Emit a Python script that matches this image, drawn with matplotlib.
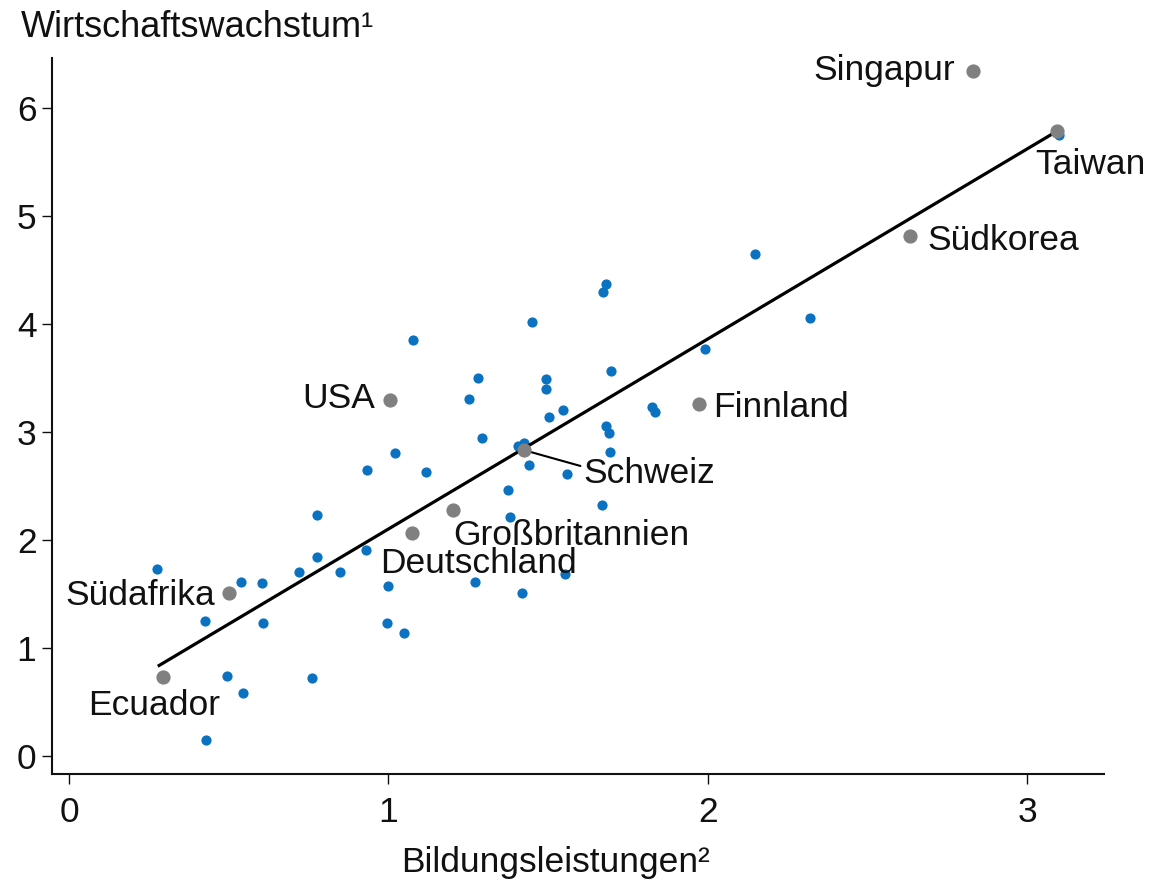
import matplotlib
matplotlib.use("Agg")
import matplotlib.pyplot as plt

plt.rcParams['font.family'] = ['Liberation Sans', 'DejaVu Sans']

# Blue dots: other countries (education score, growth)
blue_x = [0.275, 0.427, 0.429, 0.496, 0.539, 0.544, 0.603, 0.607, 0.720, 0.762,
          0.778, 0.778, 0.847, 0.929, 0.933, 0.995, 1.000, 1.022, 1.048, 1.076,
          1.119, 1.253, 1.272, 1.280, 1.294, 1.375, 1.380, 1.407, 1.418, 1.425,
          1.441, 1.451, 1.493, 1.494, 1.504, 1.545, 1.553, 1.559, 1.670, 1.671,
          1.682, 1.682, 1.689, 1.693, 1.697, 1.825, 1.833, 1.990, 2.148, 2.319,
          3.100]
blue_y = [1.73, 1.25, 0.15, 0.74, 1.61, 0.58, 1.60, 1.23, 1.70, 0.72,
          1.845, 2.23, 1.70, 1.91, 2.65, 1.23, 1.57, 2.80, 1.14, 3.85,
          2.63, 3.30, 1.61, 3.50, 2.94, 2.46, 2.21, 2.87, 1.51, 2.90,
          2.69, 4.02, 3.40, 3.49, 3.14, 3.20, 1.68, 2.61, 2.32, 4.29,
          4.37, 3.05, 2.99, 2.81, 3.565, 3.23, 3.18, 3.77, 4.645, 4.05,
          5.75]

# Highlighted countries
countries = ['Singapur', 'Taiwan', 'Südkorea', 'Finnland', 'USA', 'Schweiz',
             'Großbritannien', 'Deutschland', 'Südafrika', 'Ecuador']
country_x = [2.831, 3.094, 2.633, 1.973, 1.005, 1.425, 1.201, 1.073, 0.501, 0.295]
country_y = [6.34, 5.78, 4.81, 3.26, 3.29, 2.83, 2.28, 2.06, 1.51, 0.73]

# Regression line end points
fit_x = [0.278, 3.094]
fit_y = [0.83, 5.785]

x_ticks = [0, 1, 2, 3]
y_ticks = [0, 1, 2, 3, 4, 5, 6]

# label offsets (pixels) and alignments
label_style = {
    'Singapur':       (-18, -8.6, 'right'),
    'Taiwan':         (-22, -43, 'left'),
    'Südkorea':       (17, -13.3, 'left'),
    'Finnland':       (14, -13.3, 'left'),
    'USA':            (-15, -8, 'right'),
    'Schweiz':        (59, -33.3, 'left'),
    'Großbritannien': (1, -35, 'left'),
    'Deutschland':    (-32, -40, 'left'),
    'Südafrika':      (-14, -12.3, 'right'),
    'Ecuador':        (-9, -37.7, 'center'),
}

W, H = 1169, 883
fig = plt.figure(figsize=(W / 100, H / 100), dpi=100)
ax = fig.add_axes([51.7 / W, 1 - 774 / H, (1104 - 51.7) / W, (774 - 58) / H])

blue = '#0a72c0'
grey = '#808080'
FS = 25.5

ax.scatter(blue_x, blue_y, s=54, color=blue, linewidths=0, zorder=2)
ax.plot(fit_x, fit_y, color='black', lw=2.3, solid_capstyle='butt', zorder=3)
ax.scatter(country_x, country_y, s=105, color=grey, linewidths=0, zorder=5)

for name, cx, cy in zip(countries, country_x, country_y):
    dx, dy, ha = label_style[name]
    kw = {}
    if name == 'Schweiz':
        kw['arrowprops'] = dict(arrowstyle='-', color='black', lw=1.5,
                                shrinkA=0, shrinkB=0, relpos=(0, 0.72))
    ax.annotate(name, xy=(cx, cy), xytext=(dx, dy), textcoords='offset pixels',
                ha=ha, va='baseline', fontsize=FS, color='#111111', zorder=4, **kw)

ax.set_xlim(-0.054, 3.24)
ax.set_ylim(-0.167, 6.46)
ax.set_xticks(x_ticks)
ax.set_yticks(y_ticks)
ax.set_xticklabels([str(t) for t in x_ticks])
ax.set_yticklabels([str(t) for t in y_ticks])

for s in ['top', 'right']:
    ax.spines[s].set_visible(False)
for s in ['left', 'bottom']:
    ax.spines[s].set_linewidth(1.5)
    ax.spines[s].set_color('#111111')

ax.tick_params(axis='both', direction='out', length=7, width=1.0,
               labelsize=FS, colors='#111111')
ax.tick_params(axis='y', pad=4)
ax.tick_params(axis='x', pad=9)

fig.text(21 / W, 1 - 37 / H, 'Wirtschaftswachstum¹', ha='left', va='baseline',
         fontsize=26, color='#111111')
fig.text(556 / W, 1 - 872 / H, 'Bildungsleistungen²', ha='center', va='baseline',
         fontsize=FS, color='#111111')

fig.savefig('out.png', dpi=100)
